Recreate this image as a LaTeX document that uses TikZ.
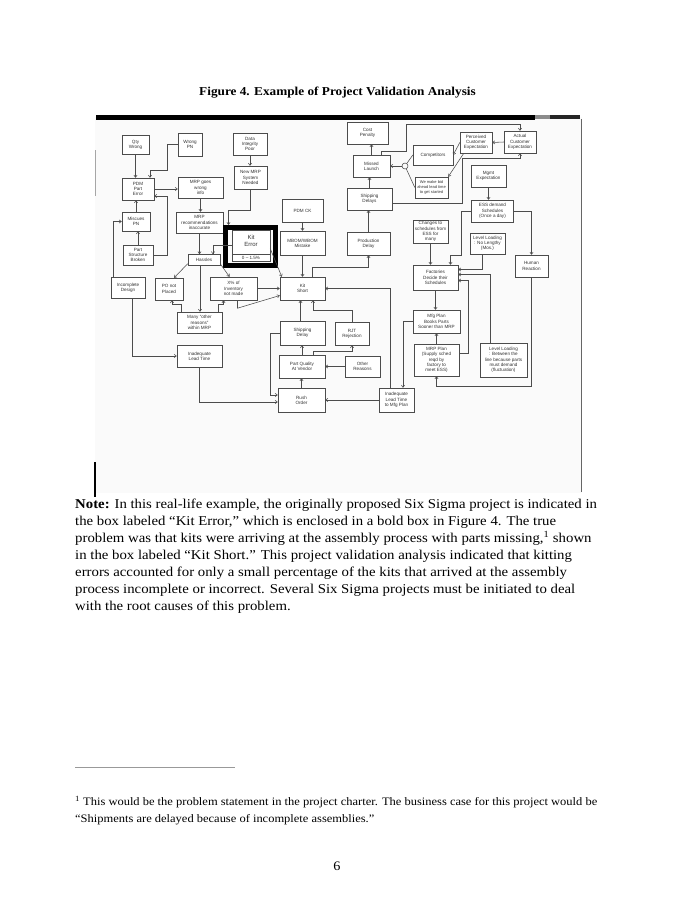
\documentclass[tikz,border=0pt]{standalone}
\usepackage{fontspec}
\setmainfont{Liberation Serif}[FakeStretch=1.095]
\setsansfont{Liberation Sans}
\usetikzlibrary{arrows.meta}
\tikzset{sz/.style 2 args={minimum width=#1,minimum height=#2}}

\begin{document}
\begin{tikzpicture}[x=1pt,y=-1pt,
  box/.style={draw=black!70,fill=white,inner sep=0.6pt,align=center,
    font=\sffamily\fontsize{4.6}{5.2}\selectfont,text=black!80},
  link/.style={-{Straight Barb[length=2.2pt,width=3.2pt]},draw=black!70,line width=.55pt},
  wire/.style={draw=black!70,line width=.55pt},
  para/.style={font=\fontsize{13.5}{17}\selectfont,align=left,inner sep=0pt}]
\useasboundingbox (0,0) rectangle (674,900);
\node[font=\bfseries\fontsize{12.1}{14}\selectfont] (title) at (337.5,93) {Figure 4. Example of Project Validation Analysis};
\fill[black!2] (95,117) rectangle (582,493);
\fill[black] (96,115) rectangle (535,119.5);
\fill[black!45] (535,115) rectangle (550,119);
\fill[black!85] (550,115) rectangle (580,119);
\draw[black!60,line width=.8pt] (581,119) -- (581,492);
\draw[black!35,line width=.6pt] (95,150) -- (95,196);
\draw[black,line width=1.6pt] (95,462) -- (95,497);
\node[box,sz={27}{19}] (qty) at (135.5,144.5) {Qty\\Wrong};
\node[box,sz={24}{23}] (wrongpn) at (190,144.5) {Wrong\\PN};
\node[box,sz={34}{22}] (dataint) at (250,144) {Data\\Integrity\\Poor};
\node[box,sz={33}{23}] (newmrp) at (250.5,177.5) {New MRP\\System\\Needed};
\node[box,sz={32}{22}] (pdmerr) at (138,189) {PDM\\Part\\Error};
\node[box,sz={45}{21}] (mrpwrong) at (200.5,187.5) {MRP goes\\wrong\\info};
\node[box,sz={47}{21}] (mrprec) at (199.5,222.5) {MRP\\recommendations\\inaccurate};
\node[box,sz={28}{19}] (miscue) at (136,221.5) {Miscues\\PN};
\node[box,sz={30}{20}] (partstruct) at (138,255) {Part\\Structure\\Broken};
\node[box,sz={32}{11}] (hassles) at (204,260) {Hassles};
\node[draw=black,line width=5pt,sz={50}{38}] (kitframe) at (250.5,246.5) {};
\node[box,sz={38}{31}] (kiterr) at (251,245.5) {};
\node[box,draw=none,fill=none,font=\sffamily\fontsize{6}{6.8}\selectfont] (kitname) at (251,240.5) {Kit\\Error};
\draw[wire] ([yshift=7pt]kiterr.south west) -- ([yshift=7pt]kiterr.south east);
\node[box,draw=none,fill=none] (kitpct) at ([yshift=3.5pt]kiterr.south) {0 -- 1.5\%};
\node[box,sz={34}{21}] (incomp) at (128,287.5) {Incomplete\\Design};
\node[box,sz={28}{22}] (ponot) at (169,289) {PO not\\Placed};
\node[box,sz={47}{23}] (xinv) at (233.5,288.5) {X\% of\\Inventory\\not made};
\node[box,sz={41}{23}] (pdmck) at (302.5,210.5) {PDM CK};
\node[box,sz={45}{24}] (mbom) at (302.5,243) {MBOM/WBOM\\Mistake};
\node[box,sz={45}{23}] (kitshort) at (302.5,288.5) {Kit\\Short};
\node[box,sz={45}{21}] (many) at (199.5,322.5) {Many “other\\reasons”\\within MRP};
\node[box,sz={45}{22}] (inadlt) at (199.5,356) {Inadequate\\Lead Time};
\node[box,sz={45}{24}] (shipdelay) at (302.5,333) {Shipping\\Delay};
\node[box,sz={34}{23}] (rjt) at (352,333.5) {RJT\\Rejection};
\node[box,sz={46}{23}] (partq) at (302,366.5) {Part Quality\\At Vendor};
\node[box,sz={35}{21}] (other) at (362.5,366.5) {Other\\Reasons};
\node[box,sz={47}{24}] (rush) at (301.5,400) {Rush\\Order};
\node[box,sz={35}{24}] (inadmfg) at (396.5,400) {Inadequate\\Lead Time\\to Mfg Plan};
\node[box,sz={41}{22}] (costpen) at (367.5,133) {Cost\\Penalty};
\node[box,sz={37}{22}] (missed) at (371.5,166) {Missed\\Launch};
\node[box,sz={45}{22}] (shipdelays) at (369.5,199) {Shipping\\Delays};
\node[box,sz={43}{23}] (proddelay) at (368.5,243.5) {Production\\Delay};
\node[box,sz={40}{20}] (comp) at (433,155) {Competitors};
\node[box,sz={33}{21},font=\sffamily\fontsize{4}{4.7}\selectfont] (bidahead) at (431.5,187.5) {We make bid\\ahead lead time\\to get started};
\node[box,sz={32}{21}] (perceived) at (476,142.5) {Perceived\\Customer\\Expectation};
\node[box,sz={32}{22}] (actual) at (520,142) {Actual\\Customer\\Expectation};
\node[box,sz={35}{22}] (mgmt) at (488.5,176) {Mgmt\\Expectation};
\node[box,sz={42}{22}] (ess) at (492.5,211) {ESS demand\\Schedules\\(Once a day)};
\node[box,sz={35}{21}] (levelmos) at (487.5,243.5) {Level Loading\\: No Lengthy\\(Mos.)};
\node[box,sz={33}{22}] (human) at (531.5,266) {Human\\Reaction};
\node[box,sz={35}{23}] (changes) at (430.5,231.5) {Changes to\\schedules from\\ESS for\\many};
\node[box,sz={45}{25}] (factories) at (435.5,277.5) {Factories\\Decide their\\Schedules};
\node[box,sz={47}{23}] (mfgplan) at (436.5,321.5) {Mfg Plan\\Books Parts\\Sooner than MRP};
\node[box,sz={45}{32}] (mrpplan) at (436.5,360) {MRP Plan\\(Supply sched\\reqd by\\factory to\\meet ESS)};
\node[box,sz={47}{34}] (levelbetw) at (503.5,360) {Level Loading\\: Between the\\line because parts\\must demand\\(fluctuation)};
\node[circle,draw=black!70,line width=.55pt,minimum size=6,inner sep=0pt] (fork) at (405,166) {};
\draw[link] (qty.south) -- (qty.south|-pdmerr.north);
\draw[link] (wrongpn.west) -- ++(-11,0) -- ++(0,25.5) -| ([xshift=12pt]pdmerr.north);
\draw[link] (dataint.south) -- (dataint.south|-newmrp.north);
\draw[link] (newmrp.south) -- ++(0,21) -| ([xshift=-22pt]kitframe.north);
\draw[link] (pdmerr.east) -- (pdmerr.east-|mrpwrong.west);
\draw[link] (partstruct.east) -| ([xshift=13pt,yshift=-7pt]pdmerr.east) -- ([yshift=-7pt]pdmerr.east);
\draw[link] (miscue.north) -- (miscue.north|-pdmerr.south);
\draw[link] (partstruct.north) -- (partstruct.north|-miscue.south);
\draw[link] ([xshift=-15pt]incomp.north) |- (miscue.west);
\draw[link] ([xshift=4pt]incomp.south) |- (inadlt.west);
\draw[link] (mrpwrong.south) -- (mrpwrong.south|-mrprec.north);
\draw[link] (mrprec.south) -- (mrprec.south|-hassles.north);
\draw[link] (kiterr.west) -| ([xshift=9pt]hassles.north);
\draw[link] ([yshift=2pt]hassles.south west) -- ([xshift=5pt]ponot.north);
\draw[link] ([yshift=2pt]hassles.south east) -- ([xshift=-4pt]xinv.north);
\draw[link] ([xshift=-4pt]hassles.south) -- ([xshift=-4pt]hassles.south|-many.north);
\draw[link] ([xshift=4pt]many.north west) -- ++(0,-8) -| ([xshift=3pt]ponot.south);
\draw[link] ([xshift=-4pt]many.north east) -- ++(0,-8) -| ([xshift=-10pt]xinv.south);
\draw[link] ([xshift=4pt]xinv.south) -- ++(0,8) -- ([yshift=-7pt]kitshort.west);
\draw[link] (xinv.east) -- (xinv.east-|kitshort.west);
\draw[link] ([yshift=-3pt]kiterr.east) -- ([xshift=2pt]kitshort.north west);
\draw[link] (pdmck.south) -- (mbom.north);
\draw[link] (mbom.south) -- (kitshort.north);
\draw[link] ([xshift=10pt]kitshort.north) -- ++(0,-10) -| (proddelay.south);
\draw[link] (proddelay.north) -- (proddelay.north|-shipdelays.south);
\draw[link] (shipdelays.north) -- (shipdelays.north|-missed.south);
\draw[link] (missed.north) -- (missed.north|-costpen.south);
\draw[wire] (comp.west) -- (fork);
\draw[wire] (bidahead.west) -- (fork);
\draw[link] (fork) -- (missed.east);
\draw[link] (perceived.west) -- (comp.east);
\draw[link] ([xshift=4pt]perceived.south west) -- (bidahead.north east);
\draw[link] (actual.west) -- (perceived.east);
\draw[link] ([xshift=10pt]missed.north) -- ++(0,-4) -| ++(24.5,-27) -| (actual.north);
\draw[link] ([yshift=-4pt]shipdelays.east) -| ++(70,-45) -| (actual.south);
\draw[link] (mgmt.south) -- (mgmt.south|-ess.north);
\draw[link] (ess.east) -| (human.north);
\draw[link] (ess.west) -| ++(-10,44) -| ([xshift=15pt]factories.north);
\draw[link] (changes.south) -- (changes.south|-factories.north);
\draw[link] ([xshift=-5pt]levelmos.south) |- ([yshift=8pt]factories.east);
\draw[link] ([xshift=-13pt]levelbetw.north) |- ([yshift=3pt]factories.east);
\draw[link] ([yshift=7pt]mrpplan.east) -| ([xshift=10pt,yshift=-3pt]factories.east) -- ([yshift=-3pt]factories.east);
\draw[link] (human.south) |- ++(-95,109) -- (mrpplan.south);
\draw[link] (factories.south) -- (factories.south|-mfgplan.north);
\draw[link] (mrpplan.north) -- (mrpplan.north|-mfgplan.south);
\draw[link] (mfgplan.west) -| ([xshift=6.5pt]inadmfg.north);
\draw[link] ([xshift=-6.5pt]inadmfg.north) |- (kitshort.east);
\draw[link] ([xshift=-2pt]shipdelay.north) -- ([xshift=-2pt]kitshort.south);
\draw[link] (rjt.north) -- ++(0,-12) -| ([xshift=10.5pt]kitshort.south);
\draw[link] (partq.north) -- (partq.north|-shipdelay.south);
\draw[link] ([xshift=11pt]partq.north) -- ++(0,-4) -| (rjt.south);
\draw[link] (other.west) -- (other.west-|partq.east);
\draw[link] (rush.north) -- (rush.north|-partq.south);
\draw[link] (inadmfg.west) -- (inadmfg.west-|rush.east);
\draw[link] (inadlt.south) |- ([yshift=-2pt]rush.west);
\draw[link] (shipdelay.west) -- ++(-10,0) |- ([yshift=5pt]rush.west);
\node[para,anchor=north west] (notetext) at (75,499) {\textbf{Note:} In this real-life example, the originally proposed Six Sigma project is indicated in\\
the box labeled “Kit Error,” which is enclosed in a bold box in Figure 4. The true\\
problem was that kits were arriving at the assembly process with parts missing,\textsuperscript{1} shown\\
in the box labeled “Kit Short.” This project validation analysis indicated that kitting\\
errors accounted for only a small percentage of the kits that arrived at the assembly\\
process incomplete or incorrect. Several Six Sigma projects must be initiated to deal\\
with the root causes of this problem.};
\draw[black!40,line width=.5pt] (75,767) -- (235,767);
\node[font=\fontsize{11.4}{17.5}\selectfont,align=left,inner sep=0pt,anchor=north west] (fntext) at (75,796) {\textsuperscript{1} This would be the problem statement in the project charter. The business case for this project would be\\
“Shipments are delayed because of incomplete assemblies.”};
\node[font=\fontsize{13}{14}\selectfont] (pagenum) at (337,866) {6};
\end{tikzpicture}
\end{document}
